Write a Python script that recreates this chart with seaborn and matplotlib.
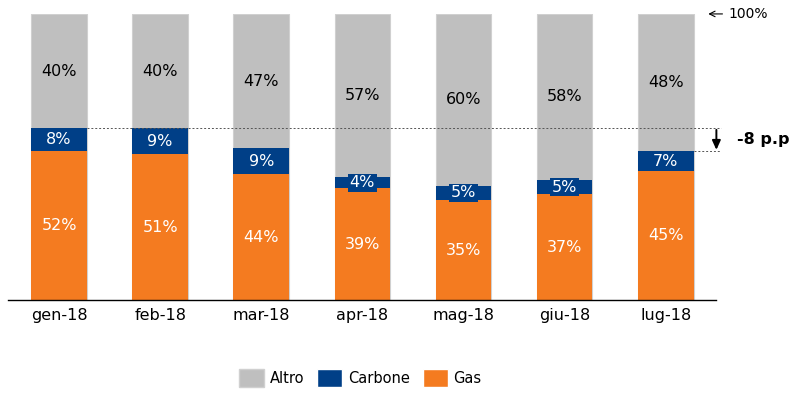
import matplotlib
matplotlib.use('Agg')
import matplotlib.pyplot as plt
import seaborn as sns
import pandas as pd
from matplotlib.patches import Patch

mesi = ['gen-18', 'feb-18', 'mar-18', 'apr-18', 'mag-18', 'giu-18', 'lug-18']
gas = [52, 51, 44, 39, 35, 37, 45]
carbone = [8, 9, 9, 4, 5, 5, 7]
altro = [40, 40, 47, 57, 60, 58, 48]

c_altro = '#BFBFBF'
c_carbone = '#003F87'
c_gas = '#F47B20'

df = pd.DataFrame({'mese': mesi, 'gas': gas, 'carbone': carbone, 'altro': altro})
df['gas_carbone'] = df['gas'] + df['carbone']
df['totale'] = df['gas_carbone'] + df['altro']

sns.set_style('white')
plt.rcParams['font.family'] = ['DejaVu Sans']
plt.rcParams['text.color'] = 'black'

fig = plt.figure(figsize=(7.99, 3.98), dpi=100)
ax = fig.add_axes([0.0106, 0.246, 0.886, 0.719])

# barre sovrapposte (totale, gas+carbone, gas)
sns.barplot(data=df, x='mese', y='totale', color=c_altro, width=0.55,
            edgecolor='#D0D0D0', linewidth=0.8, saturation=1, ax=ax)
sns.barplot(data=df, x='mese', y='gas_carbone', color=c_carbone, width=0.55,
            linewidth=0, saturation=1, ax=ax)
sns.barplot(data=df, x='mese', y='gas', color=c_gas, width=0.55,
            linewidth=0, saturation=1, ax=ax)

fs = 11.5
for i, row in df.iterrows():
    ax.text(i, row['gas'] / 2, f"{row['gas']}%", ha='center', va='center',
            color='white', fontsize=fs)
    y_c = row['gas'] + row['carbone'] / 2
    if row['carbone'] < 7:
        ax.text(i, y_c, f"{row['carbone']}%", ha='center', va='center',
                color='white', fontsize=fs,
                bbox=dict(boxstyle='square,pad=0.1', fc=c_carbone, ec='none'))
    else:
        ax.text(i, y_c, f"{row['carbone']}%", ha='center', va='center',
                color='white', fontsize=fs)
    y_a = row['gas_carbone'] + row['altro'] / 2
    ax.text(i, y_a, f"{row['altro']}%", ha='center', va='center',
            color='black', fontsize=fs)

# linee tratteggiate e freccia
primo = df['gas_carbone'].iloc[0]
ultimo = df['gas_carbone'].iloc[-1]
ax.plot([0.275, 6.55], [primo, primo], ls=(0, (2, 2)), lw=0.7, color='#555555', clip_on=False)
ax.plot([6.275, 6.55], [ultimo, ultimo], ls=(0, (2, 2)), lw=0.7, color='#555555', clip_on=False)
ax.annotate('', xy=(6.5, ultimo + 0.5), xytext=(6.5, primo - 0.5),
            arrowprops=dict(arrowstyle='-|>,head_length=0.55,head_width=0.25', color='black',
                            lw=1.4, mutation_scale=10, shrinkA=0, shrinkB=0),
            annotation_clip=False)
ax.text(6.7, (primo + ultimo) / 2, '-8 p.p', ha='left', va='center',
        fontsize=fs, fontweight='bold', color='black', clip_on=False)
ax.annotate('100%', xy=(6.42, 100), xytext=(6.62, 100), va='center', ha='left',
            fontsize=10, color='black',
            arrowprops=dict(arrowstyle='->', color='black', lw=0.8, shrinkA=2, shrinkB=0),
            annotation_clip=False)

ax.set_xlim(-0.5, 6.5)
ax.set_ylim(0, 100)
ax.set_xlabel('')
ax.set_ylabel('')
ax.set_yticks([])
ax.tick_params(axis='x', length=0, labelsize=fs, pad=6, labelcolor='black')
sns.despine(ax=ax, left=True)
ax.spines['bottom'].set_color('black')
ax.spines['bottom'].set_linewidth(1)

handles = [Patch(facecolor=c_altro, edgecolor='#D0D0D0', label='Altro'),
           Patch(facecolor=c_carbone, label='Carbone'),
           Patch(facecolor=c_gas, label='Gas')]
fig.legend(handles=handles, loc='center', bbox_to_anchor=(0.451, 0.05), ncol=3,
           frameon=False, fontsize=10.5, handlelength=1.7, handleheight=1.45,
           columnspacing=0.9, handletextpad=0.4, labelcolor='black')

fig.savefig('out.png', dpi=100)
